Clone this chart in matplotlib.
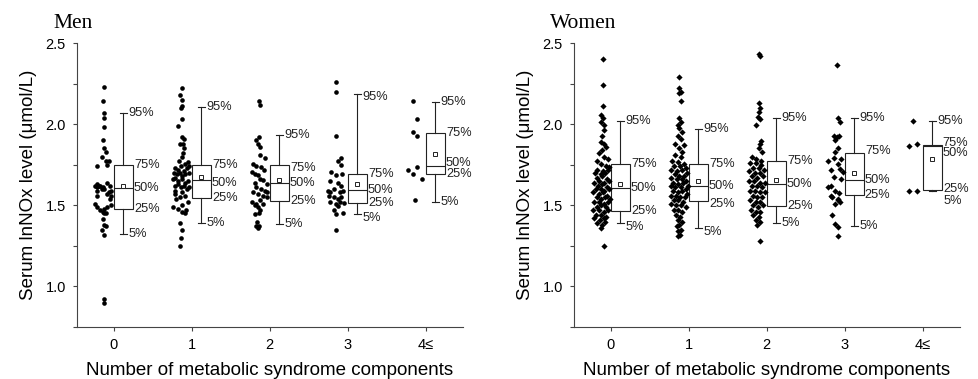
import matplotlib
matplotlib.use('Agg')
import matplotlib.pyplot as plt
from matplotlib.ticker import MultipleLocator
from matplotlib.transforms import offset_copy

plt.rcParams['font.family'] = ['Liberation Sans', 'DejaVu Sans']

categories = ['0', '1', '2', '3', '4≤']
pct_labels = ['5%', '25%', '50%', '75%', '95%']

# percentiles per group: 5th, 25th, 50th, 75th, 95th
men_pcts = [
    [1.325, 1.475, 1.605, 1.748, 2.066],
    [1.392, 1.543, 1.657, 1.748, 2.107],
    [1.382, 1.525, 1.636, 1.748, 1.936],
    [1.445, 1.515, 1.595, 1.694, 2.186],
    [1.523, 1.690, 1.741, 1.946, 2.135],
]
men_means = [1.616, 1.673, 1.653, 1.634, 1.818]

women_pcts = [
    [1.390, 1.463, 1.607, 1.752, 2.019],
    [1.362, 1.525, 1.620, 1.752, 1.973],
    [1.390, 1.496, 1.633, 1.773, 2.040],
    [1.373, 1.562, 1.653, 1.822, 2.035],
    [1.590, 1.595, 1.866, 1.874, 2.019],
]
women_means = [1.634, 1.647, 1.653, 1.698, 1.787]

# individual subjects: (jitter left of the category, value)
men_points = [
    [(-0.13, 2.23), (-0.14, 2.14), (-0.13, 2.07), (-0.12, 2.04), (-0.12, 1.98), (-0.14, 1.90),
     (-0.13, 1.85), (-0.10, 1.83), (-0.15, 1.80), (-0.10, 1.77), (-0.06, 1.77), (-0.21, 1.74),
     (-0.09, 1.75), (-0.09, 1.64), (-0.05, 1.62), (-0.04, 1.59), (-0.03, 1.56), (-0.06, 1.58),
     (-0.24, 1.62), (-0.22, 1.61), (-0.19, 1.62), (-0.17, 1.62), (-0.14, 1.61), (-0.12, 1.60),
     (-0.21, 1.63), (-0.15, 1.60), (-0.21, 1.59), (-0.22, 1.56), (-0.08, 1.57), (-0.05, 1.54),
     (-0.24, 1.51), (-0.21, 1.49), (-0.18, 1.47), (-0.14, 1.46), (-0.12, 1.48), (-0.10, 1.45),
     (-0.09, 1.49), (-0.04, 1.50), (-0.13, 1.45), (-0.14, 1.415), (-0.12, 1.38), (-0.10, 1.37),
     (-0.15, 1.35), (-0.13, 1.32), (-0.13, 0.90), (-0.12, 0.92)],
    [(-0.13, 2.22), (-0.15, 2.18), (-0.13, 2.15), (-0.14, 2.10), (-0.12, 2.11), (-0.12, 2.03),
     (-0.17, 1.99), (-0.12, 1.92), (-0.10, 1.91), (-0.15, 1.88), (-0.11, 1.875), (-0.10, 1.85),
     (-0.13, 1.80), (-0.11, 1.82), (-0.16, 1.77), (-0.09, 1.755), (-0.05, 1.765), (-0.03, 1.745),
     (-0.22, 1.73), (-0.18, 1.72), (-0.14, 1.74), (-0.10, 1.71), (-0.06, 1.73), (-0.23, 1.70),
     (-0.19, 1.69), (-0.15, 1.70), (-0.12, 1.68), (-0.08, 1.69), (-0.04, 1.70), (-0.24, 1.66),
     (-0.21, 1.67), (-0.17, 1.65), (-0.13, 1.66), (-0.09, 1.64), (-0.05, 1.65), (-0.22, 1.62),
     (-0.18, 1.63), (-0.14, 1.61), (-0.10, 1.62), (-0.06, 1.60), (-0.03, 1.61), (-0.21, 1.59),
     (-0.12, 1.58), (-0.22, 1.57), (-0.20, 1.54), (-0.15, 1.55), (-0.08, 1.56), (-0.24, 1.49),
     (-0.18, 1.48), (-0.13, 1.46), (-0.09, 1.45), (-0.07, 1.47), (-0.12, 1.50), (-0.05, 1.52),
     (-0.15, 1.39), (-0.13, 1.35), (-0.14, 1.30), (-0.15, 1.25)],
    [(-0.14, 2.14), (-0.13, 2.12), (-0.14, 1.92), (-0.17, 1.90), (-0.15, 1.88), (-0.12, 1.86),
     (-0.13, 1.81), (-0.06, 1.79), (-0.21, 1.755), (-0.17, 1.745), (-0.11, 1.735), (-0.07, 1.72),
     (-0.23, 1.705), (-0.19, 1.695), (-0.15, 1.685), (-0.13, 1.665), (-0.09, 1.655), (-0.04, 1.63),
     (-0.19, 1.64), (-0.17, 1.61), (-0.11, 1.60), (-0.06, 1.59), (-0.21, 1.58), (-0.15, 1.57),
     (-0.09, 1.56), (-0.04, 1.55), (-0.13, 1.53), (-0.18, 1.51), (-0.15, 1.49), (-0.09, 1.51),
     (-0.12, 1.47), (-0.14, 1.45), (-0.19, 1.50), (-0.19, 1.445), (-0.16, 1.395), (-0.14, 1.375),
     (-0.15, 1.36), (-0.17, 1.37), (-0.04, 1.58), (-0.23, 1.52)],
    [(-0.15, 2.26), (-0.15, 2.20), (-0.15, 1.93), (-0.09, 1.79), (-0.13, 1.77), (-0.09, 1.75),
     (-0.21, 1.705), (-0.15, 1.685), (-0.07, 1.69), (-0.23, 1.65), (-0.12, 1.64), (-0.08, 1.62),
     (-0.18, 1.60), (-0.25, 1.585), (-0.22, 1.58), (-0.10, 1.58), (-0.06, 1.59), (-0.17, 1.55),
     (-0.12, 1.54), (-0.08, 1.55), (-0.24, 1.555), (-0.23, 1.52), (-0.10, 1.52), (-0.15, 1.51),
     (-0.05, 1.515), (-0.12, 1.495), (-0.17, 1.47), (-0.15, 1.445), (-0.06, 1.455), (-0.15, 1.345)],
    [(-0.16, 2.14), (-0.11, 2.03), (-0.16, 1.95), (-0.11, 1.93), (-0.22, 1.72), (-0.11, 1.735),
     (-0.16, 1.69), (-0.05, 1.66), (-0.13, 1.535)],
]

women_points = [
    [(-0.10, 2.40), (-0.10, 2.24), (-0.10, 2.11), (-0.12, 2.055), (-0.10, 2.035), (-0.12, 2.015),
     (-0.09, 1.995), (-0.08, 1.965), (-0.11, 1.93), (-0.13, 1.89), (-0.09, 1.88), (-0.06, 1.86),
     (-0.11, 1.84), (-0.15, 1.82), (-0.09, 1.80), (-0.04, 1.785), (-0.17, 1.775), (-0.13, 1.755),
     (-0.06, 1.745), (-0.02, 1.735),
     (-0.17, 1.72), (-0.10, 1.71), (-0.04, 1.72), (-0.20, 1.70), (-0.13, 1.69), (-0.07, 1.70),
     (-0.18, 1.67), (-0.11, 1.68), (-0.05, 1.66), (-0.15, 1.65), (-0.21, 1.64), (-0.08, 1.64),
     (-0.02, 1.65), (-0.16, 1.62), (-0.11, 1.63), (-0.05, 1.61), (-0.19, 1.60), (-0.13, 1.60),
     (-0.08, 1.59), (-0.02, 1.60), (-0.22, 1.58), (-0.15, 1.57), (-0.10, 1.58), (-0.05, 1.56),
     (-0.18, 1.55), (-0.12, 1.54), (-0.07, 1.55), (-0.01, 1.54), (-0.21, 1.52), (-0.15, 1.52),
     (-0.09, 1.51), (-0.04, 1.52), (-0.18, 1.49), (-0.12, 1.50), (-0.06, 1.49), (-0.22, 1.47),
     (-0.15, 1.47), (-0.09, 1.46), (-0.03, 1.47), (-0.19, 1.44), (-0.12, 1.44), (-0.06, 1.43),
     (-0.21, 1.42), (-0.14, 1.41), (-0.08, 1.42), (-0.17, 1.39), (-0.11, 1.38), (-0.13, 1.36),
     (-0.07, 1.40), (-0.09, 1.25)],
    [(-0.12, 2.29), (-0.12, 2.22), (-0.10, 2.20), (-0.12, 2.19), (-0.10, 2.14), (-0.12, 2.035),
     (-0.10, 2.015), (-0.14, 1.995), (-0.12, 1.975), (-0.08, 1.95), (-0.14, 1.93), (-0.10, 1.91),
     (-0.17, 1.88), (-0.06, 1.87), (-0.12, 1.85), (-0.08, 1.83), (-0.17, 1.81), (-0.10, 1.80),
     (-0.21, 1.775), (-0.14, 1.765), (-0.06, 1.755),
     (-0.19, 1.74), (-0.11, 1.74), (-0.04, 1.73), (-0.22, 1.72), (-0.15, 1.71), (-0.08, 1.72),
     (-0.02, 1.70), (-0.18, 1.69), (-0.12, 1.68), (-0.06, 1.68), (-0.23, 1.67), (-0.15, 1.66),
     (-0.09, 1.66), (-0.03, 1.65), (-0.20, 1.64), (-0.13, 1.63), (-0.07, 1.64), (-0.01, 1.62),
     (-0.23, 1.62), (-0.17, 1.61), (-0.10, 1.61), (-0.04, 1.60), (-0.20, 1.59), (-0.14, 1.58),
     (-0.08, 1.59), (-0.02, 1.57), (-0.23, 1.56), (-0.16, 1.56), (-0.11, 1.55), (-0.05, 1.55),
     (-0.19, 1.53), (-0.13, 1.53), (-0.07, 1.52), (-0.22, 1.51), (-0.16, 1.50), (-0.10, 1.50),
     (-0.04, 1.49), (-0.19, 1.47), (-0.13, 1.47), (-0.08, 1.46), (-0.16, 1.44), (-0.11, 1.43),
     (-0.14, 1.41), (-0.09, 1.40), (-0.12, 1.38), (-0.15, 1.37), (-0.10, 1.35), (-0.13, 1.34),
     (-0.11, 1.32), (-0.13, 1.31)],
    [(-0.10, 2.435), (-0.09, 2.42), (-0.10, 2.13), (-0.09, 2.10), (-0.10, 2.075), (-0.11, 2.045),
     (-0.09, 2.03), (-0.13, 1.995), (-0.07, 1.895), (-0.09, 1.875), (-0.10, 1.85), (-0.06, 1.83),
     (-0.19, 1.80), (-0.13, 1.785), (-0.07, 1.775),
     (-0.21, 1.76), (-0.14, 1.76), (-0.07, 1.75), (-0.18, 1.73), (-0.10, 1.73), (-0.03, 1.72),
     (-0.22, 1.71), (-0.15, 1.70), (-0.08, 1.70), (-0.19, 1.68), (-0.12, 1.67), (-0.05, 1.68),
     (-0.22, 1.65), (-0.16, 1.65), (-0.09, 1.64), (-0.02, 1.64), (-0.19, 1.62), (-0.12, 1.62),
     (-0.06, 1.61), (-0.21, 1.59), (-0.15, 1.59), (-0.08, 1.58), (-0.02, 1.58), (-0.18, 1.56),
     (-0.12, 1.55), (-0.06, 1.55), (-0.21, 1.53), (-0.14, 1.52), (-0.08, 1.52), (-0.17, 1.50),
     (-0.11, 1.49), (-0.05, 1.50), (-0.20, 1.47), (-0.14, 1.46), (-0.08, 1.46), (-0.17, 1.44),
     (-0.10, 1.43), (-0.14, 1.41), (-0.08, 1.40), (-0.12, 1.38), (-0.09, 1.28)],
    [(-0.10, 2.365), (-0.09, 2.035), (-0.06, 2.015), (-0.14, 1.925), (-0.10, 1.92), (-0.07, 1.93),
     (-0.12, 1.90), (-0.08, 1.855), (-0.12, 1.83), (-0.14, 1.79), (-0.04, 1.785), (-0.21, 1.775),
     (-0.09, 1.755), (-0.06, 1.725), (-0.17, 1.715), (-0.02, 1.705), (-0.04, 1.665), (-0.14, 1.675),
     (-0.21, 1.61), (-0.17, 1.62), (-0.12, 1.59), (-0.07, 1.575), (-0.17, 1.56), (-0.08, 1.54),
     (-0.16, 1.55), (-0.09, 1.53), (-0.12, 1.51), (-0.06, 1.52), (-0.16, 1.44), (-0.12, 1.385),
     (-0.09, 1.365), (-0.09, 1.31)],
    [(-0.12, 2.02), (-0.18, 1.865), (-0.07, 1.875), (-0.18, 1.585), (-0.07, 1.59)],
]

# small label shifts (pixels right, pixels down) where labels would collide
men_nudge = {(1, '50%'): (0, 3), (2, '75%'): (0, 3), (3, '95%'): (0, 3), (3, '5%'): (0, 4),
             (4, '50%'): (0, -3)}
women_nudge = {(0, '5%'): (0, 4), (1, '5%'): (0, 4), (1, '25%'): (0, 3), (3, '75%'): (0, -2),
               (4, '75%'): (0, -2), (4, '50%'): (0, 7), (4, '25%'): (1, -1), (4, '5%'): (6, 10)}

ink = '#222222'


def draw_panel(ax, pcts, means, points, marker, title, nudge):
    for i, pts in enumerate(points):
        xs = [i + dx for dx, v in pts]
        ys = [v for dx, v in pts]
        ax.scatter(xs, ys, s=11 if marker == 'o' else 10, marker=marker, color='black',
                   linewidths=0, zorder=3)

    stats = []
    for p, m in zip(pcts, means):
        stats.append(dict(whislo=p[0], q1=p[1], med=p[2], q3=p[3], whishi=p[4], mean=m,
                          fliers=[]))
    pos = [i + 0.125 for i in range(len(pcts))]
    ax.bxp(stats, positions=pos, widths=0.25, capwidths=0.09, showmeans=True,
           patch_artist=True, manage_ticks=False,
           boxprops=dict(facecolor='white', edgecolor=ink, linewidth=0.8),
           medianprops=dict(color=ink, linewidth=0.8),
           whiskerprops=dict(color=ink, linewidth=0.8),
           capprops=dict(color=ink, linewidth=0.8),
           meanprops=dict(marker='s', markerfacecolor='white', markeredgecolor=ink,
                          markersize=3, markeredgewidth=0.7))

    fig = ax.figure
    for i, p in enumerate(pcts):
        for k, (lab, v) in enumerate(zip(pct_labels, p)):
            xoff = 0.19 if k in (0, 4) else 0.26
            dx, dy = nudge.get((i, lab), (0, 0))
            tr = offset_copy(ax.transData, fig=fig, x=dx * 0.72, y=-dy * 0.72, units='points')
            ax.text(i + xoff, v, lab, transform=tr, ha='left', va='center', fontsize=9.2,
                    color=ink)

    ax.set_xlim(-0.47, 4.48)
    ax.set_ylim(0.75, 2.5)
    ax.set_xticks(range(len(categories)))
    ax.set_xticklabels(categories)
    ax.set_yticks([1.0, 1.5, 2.0, 2.5])
    ax.yaxis.set_minor_locator(MultipleLocator(0.25))
    ax.tick_params(axis='both', which='both', direction='out', length=3, width=0.8,
                   color='#444444', labelsize=10.5, pad=5)
    for s in ('top', 'right'):
        ax.spines[s].set_visible(False)
    for s in ('left', 'bottom'):
        ax.spines[s].set_color('#444444')
        ax.spines[s].set_linewidth(0.8)
    ax.set_xlabel('Number of metabolic syndrome components', fontsize=13.5, labelpad=7)
    ax.set_ylabel('Serum lnNOx level (μmol/L)', fontsize=13.5, labelpad=6)
    ax.text(-0.062, 1.035, title, transform=ax.transAxes, family='Liberation Serif',
            fontsize=15.5, ha='left', va='bottom')


fig = plt.figure(figsize=(9.79, 3.79), dpi=100)
ax1 = fig.add_axes([0.0787, 0.1372, 0.3943, 0.7493])
ax2 = fig.add_axes([0.5863, 0.1372, 0.3943, 0.7493])

draw_panel(ax1, men_pcts, men_means, men_points, 'o', 'Men', men_nudge)
draw_panel(ax2, women_pcts, women_means, women_points, 'D', 'Women', women_nudge)

fig.savefig('out.png', dpi=100)
